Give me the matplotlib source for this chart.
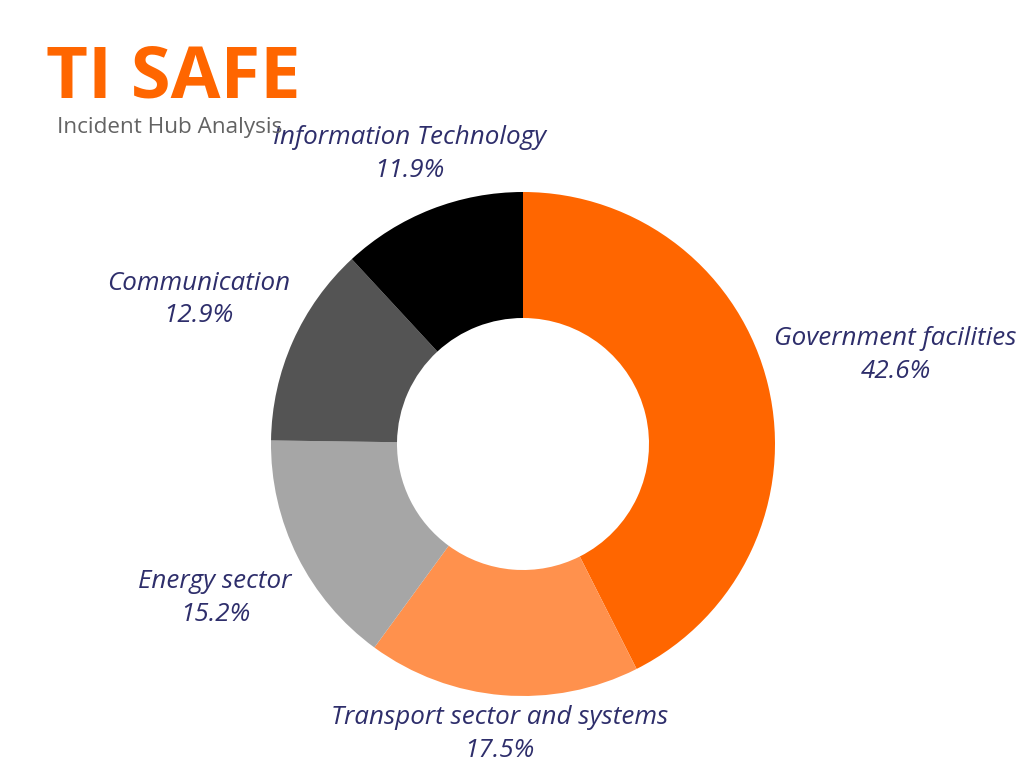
import matplotlib
matplotlib.use("Agg")
import matplotlib.pyplot as plt
import numpy as np

categories = ["Government facilities", "Transport sector and systems", "Energy sector",
              "Communication", "Information Technology"]
values = [42.6, 17.5, 15.2, 12.9, 11.9]
colors = ["#FF6600", "#FF914D", "#A6A6A6", "#545454", "#000000"]
label_dist = [1.52, 1.155, 1.366, 1.41, 1.235]

W, H = 1024, 768
fig = plt.figure(figsize=(W / 100, H / 100), dpi=100)
cx, cy, R = 523, 444, 252
ax = fig.add_axes([(cx - R) / W, (H - cy - R) / H, 2 * R / W, 2 * R / H])

wedges, _ = ax.pie(values, colors=colors, startangle=90, counterclock=False,
                   radius=1.0, wedgeprops=dict(width=0.5, linewidth=0, antialiased=True))
ax.set_xlim(-1, 1)
ax.set_ylim(-1, 1)
ax.set_aspect("equal")
ax.axis("off")

label_color = "#2E2E6B"
for w, cat, v, d in zip(wedges, categories, values, label_dist):
    ang = np.deg2rad((w.theta1 + w.theta2) / 2)
    x, y = d * np.cos(ang), d * np.sin(ang)
    ax.text(x, y, f"{cat}\n{v}%", ha="center", va="center", fontsize=18.7,
            fontstyle="italic", family="Open Sans", color=label_color,
            linespacing=1.4, clip_on=False)

fig.text(46 / W, 1 - 97 / H, "TI SAFE", fontsize=52, fontweight="bold",
         family="Open Sans", color="#FF6600", ha="left", va="baseline")
fig.text(57 / W, 1 - 133 / H, "Incident Hub Analysis", fontsize=16.2,
         family="Open Sans", color="#636363", ha="left", va="baseline")

fig.savefig("out.png", dpi=100, facecolor="white")
